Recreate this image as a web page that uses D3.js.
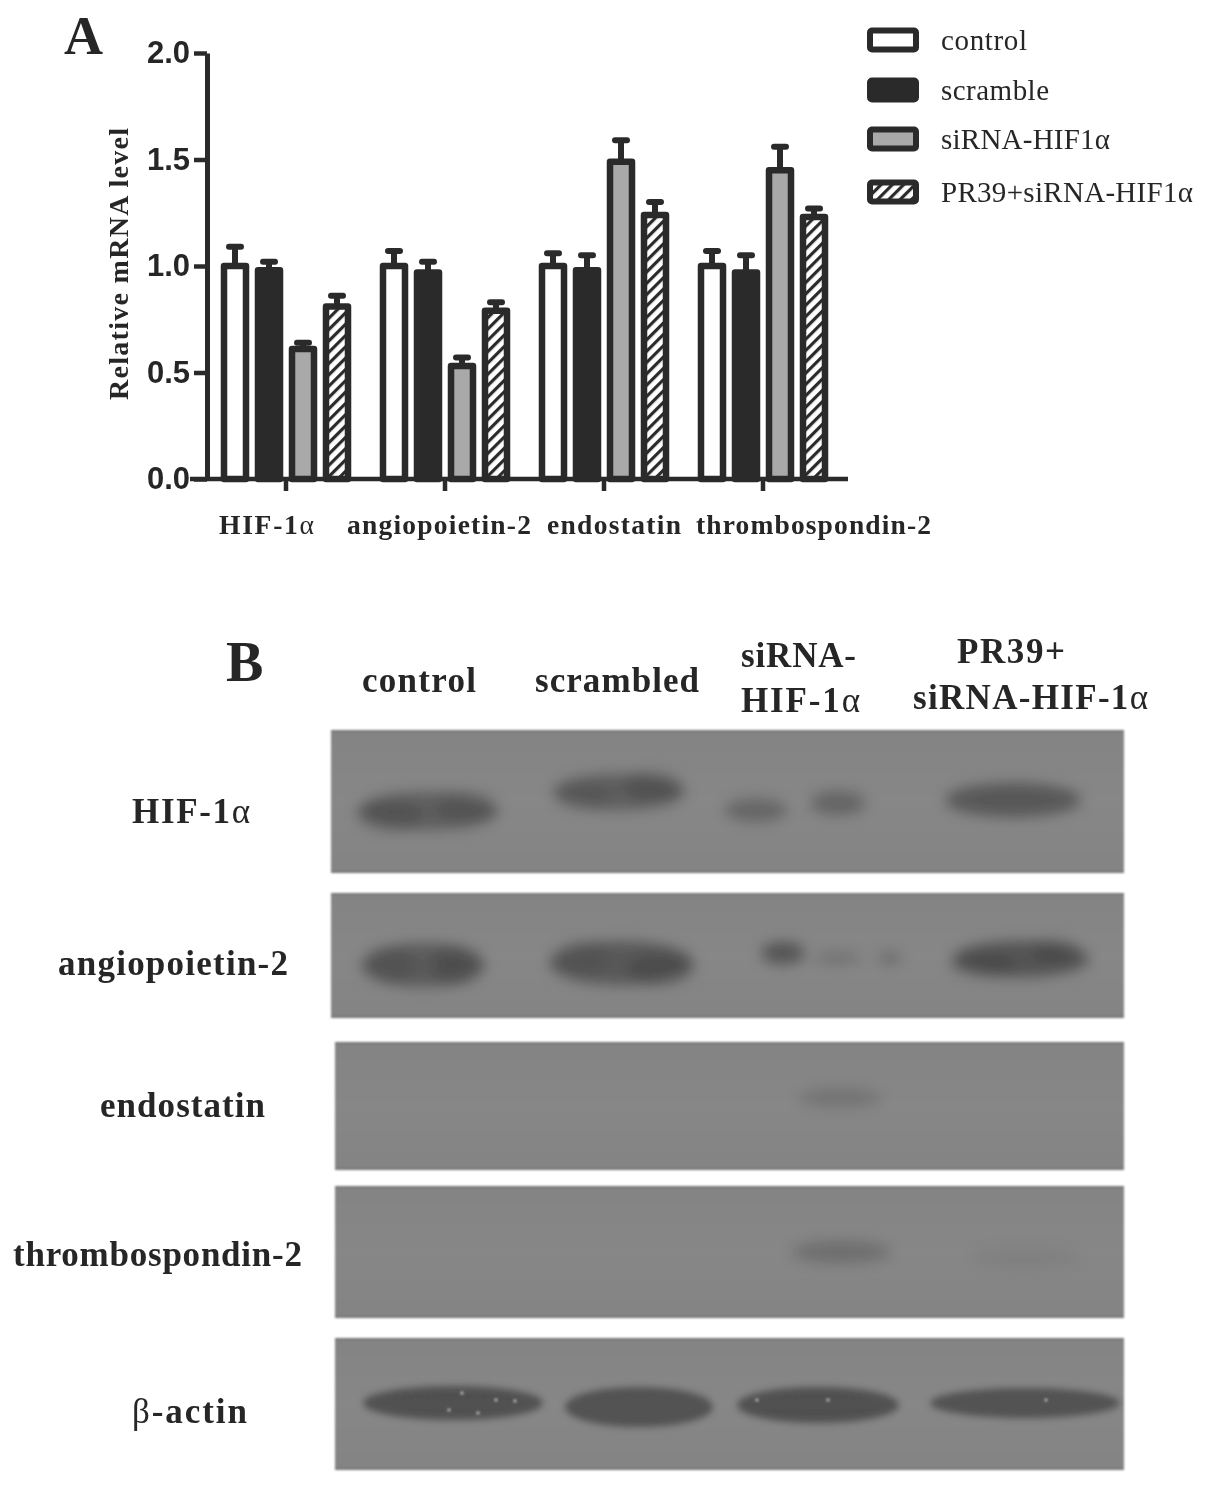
<!DOCTYPE html>
<html><head><meta charset="utf-8">
<script src="https://cdn.jsdelivr.net/npm/d3@7"></script>
<style>html,body{margin:0;padding:0;background:#fff}svg{display:block}</style>
</head><body><svg id="c" width="1205" height="1486"></svg>
<script>
// ---- Panel A data ----
const genes = ["HIF-1α","angiopoietin-2","endostatin","thrombospondin-2"];
const groups = ["control","scramble","siRNA-HIF1α","PR39+siRNA-HIF1α"];
const control  = [1.00,1.00,1.00,1.00];
const scramble = [0.98,0.97,0.98,0.97];
const sirna    = [0.61,0.53,1.49,1.45];
const pr39     = [0.81,0.79,1.24,1.23];
const controlTop  = [1.09,1.07,1.06,1.07];
const scrambleTop = [1.02,1.02,1.05,1.05];
const sirnaTop    = [0.64,0.57,1.59,1.56];
const pr39Top     = [0.86,0.83,1.30,1.27];
const yTicks = [0,0.5,1,1.5,2];
// ---- Panel B data: lanes and blot bands, in gel units [x, y, rx, ry, density] ----
const lanes = ["control","scrambled","siRNA-HIF-1α","PR39+siRNA-HIF-1α"];
const proteins = ["HIF-1α","angiopoietin-2","endostatin","thrombospondin-2","β-actin"];
const hifBands = [[97,81,70,19,.3],[58,85,32,17,.12],[135,77,30,17,.1],[288,62,66,18,.3],[252,66,28,15,.08],[322,56,28,15,.14],[425,80,32,12,.24],[507,73,28,12,.26],[682,70,68,17,.35]];
const angBands = [[92,72,62,22,.32],[60,72,24,18,.1],[124,72,24,20,.14],[290,70,72,22,.34],[250,64,26,18,.08],[330,76,34,17,.14],[452,60,22,11,.38],[507,65,24,5,.2],[559,65,12,6,.22],[690,66,68,18,.38],[725,57,24,12,.12],[650,72,34,13,.1]];
const endoBands = [[509,56,42,10,.14]];
const thrBands = [[510,66,50,11,.19],[694,71,55,11,.05]];
const actinBands = [[122,65,90,17,.4],[308,69,74,20,.39],[487,67,81,18,.4],[694,65,95,15,.39]];
const actinSpecks = [[131,55],[165,62],[184,63],[147,75],[118,72],[426,62],[497,62],[715,62]];
const blotBands = [hifBands,angBands,endoBands,thrBands,actinBands];
const panelTops = [730,893,1042,1186,1338];
const panelBottoms = [873,1018,1170,1318,1470];
const panelLefts = [331,331,335,335,335];

const svg = d3.select("#c");
const defs = svg.append("defs");
const INK = "#2b2b2b", TXT = "#262626";
const soft = defs.append("filter").attr("id","soft").attr("x","-1%").attr("y","-1%").attr("width","102%").attr("height","102%");
soft.append("feGaussianBlur").attr("stdDeviation",0.45);
[["bandBlur",7,"-40%","-100%","180%","300%"],["actinBlur",3.5,"-20%","-60%","140%","220%"],["edge",0.9,"-1%","-3%","102%","106%"],["speck",0.8,"-100%","-100%","300%","300%"]].forEach(([id,s,x,y,w,h])=>{
  defs.append("filter").attr("id",id).attr("x",x).attr("y",y).attr("width",w).attr("height",h)
    .append("feGaussianBlur").attr("stdDeviation",s);
});
const hatch = defs.append("pattern").attr("id","hatch").attr("patternUnits","userSpaceOnUse")
  .attr("width",8).attr("height",8).attr("patternTransform","rotate(45)");
hatch.append("rect").attr("width",8).attr("height",8).attr("fill","#fff");
hatch.append("rect").attr("width",3.2).attr("height",8).attr("fill",INK);
const grad = defs.append("linearGradient").attr("id","gel").attr("x1",0).attr("x2",0).attr("y1",0).attr("y2",1);
[[0,"#747474"],[.025,"#848484"],[.5,"#878787"],[.975,"#848484"],[1,"#747474"]].forEach(([o,c])=>grad.append("stop").attr("offset",o).attr("stop-color",c));

const root = svg.append("g").attr("filter","url(#soft)");
function label(g,t,x0,x1,y,size,opt={}){
  const el = g.append("text").attr("x",x0).attr("y",y).attr("dominant-baseline","central")
    .attr("font-family",opt.family||"Liberation Serif").attr("font-weight",opt.weight||"bold")
    .attr("font-size",size).attr("fill",TXT).attr("textLength",x1-x0).attr("lengthAdjust","spacing");
  t.split(/([αβ])/).filter(s=>s).forEach(s=>{
    const ts = el.append("tspan").text(s);
    if(s==="α"||s==="β") ts.attr("font-weight","normal");
  });
  return el;
}

// ---- Panel A ----
const A = root.append("g");
label(A,"A",64,104,36,54);
const y = d3.scaleLinear().domain([0,2]).range([479,53]);
const x0 = d3.scaleBand().domain(genes).range([206.5,842.5]);
const x1 = d3.scaleBand().domain(groups).range([11.5,147.5]);
const fills = d3.scaleOrdinal().domain(groups).range(["#fff",INK,"#a9a9a9","url(#hatch)"]);
const series = [control,scramble,sirna,pr39];
const tops = [controlTop,scrambleTop,sirnaTop,pr39Top];
const barW = 22;
groups.forEach((g,si)=>{
  genes.forEach((gene,i)=>{
    const cx = x0(gene)+x1(g)+x1.bandwidth()/2;
    A.append("line").attr("x1",cx).attr("x2",cx).attr("y1",y(series[si][i])).attr("y2",y(tops[si][i]))
      .attr("stroke",INK).attr("stroke-width",6);
    A.append("line").attr("x1",cx-6).attr("x2",cx+6).attr("y1",y(tops[si][i])).attr("y2",y(tops[si][i]))
      .attr("stroke",INK).attr("stroke-width",6).attr("stroke-linecap","round");
    A.append("rect").attr("x",cx-barW/2).attr("width",barW).attr("y",y(series[si][i])).attr("height",y(0)-y(series[si][i]))
      .attr("fill",fills(g)).attr("stroke",INK).attr("stroke-width",6.5).attr("stroke-linejoin","round");
  });
});
const yAxis = A.append("g").attr("transform","translate(207,0)")
  .call(d3.axisLeft(y).tickValues(yTicks).tickFormat(d3.format(".1f")).tickSize(13).tickSizeOuter(0).tickPadding(4));
yAxis.select(".domain").attr("stroke",INK).attr("stroke-width",5);
yAxis.selectAll(".tick line").attr("stroke",INK).attr("stroke-width",4.5);
yAxis.selectAll("text").attr("font-family","Liberation Sans").attr("font-weight","bold").attr("font-size",31).attr("fill",TXT);
const xAxis = A.append("g").attr("transform","translate(0,479)")
  .call(d3.axisBottom(x0).tickSize(12).tickSizeOuter(0).tickFormat(""));
xAxis.select(".domain").attr("stroke",INK).attr("stroke-width",4.5).attr("d","M190,0H848");
xAxis.selectAll(".tick line").attr("stroke",INK).attr("stroke-width",4.5);
label(A,"Relative mRNA level",0,272,0,28).attr("transform","translate(118,400) rotate(-90)");
const catSpans = [[219,314],[347,531],[547,681],[696,931]];
genes.forEach((g,i)=>label(A,g,catSpans[i][0],catSpans[i][1],524,27.5));

// legend
const legendY = {"control":40,"scramble":90,"siRNA-HIF1α":139,"PR39+siRNA-HIF1α":192};
const legendEnds = [1027,1049,1110,1193];
groups.forEach((g,i)=>{
  const cy = legendY[g];
  A.append("rect").attr("x",870).attr("y",cy-9.5).attr("width",46).attr("height",19).attr("rx",2)
    .attr("fill",fills(g)).attr("stroke",INK).attr("stroke-width",6).attr("stroke-linejoin","round");
  label(A,g,941,legendEnds[i],cy,29,{weight:"normal"});
});

// ---- Panel B ----
const B = root.append("g");
label(B,"B",226,263,662,56);
label(B,"control",362,476,680,35);
label(B,"scrambled",535,699,680,35);
label(B,"siRNA-",741,856,655,35);
label(B,"HIF-1α",741,860,700,35);
label(B,"PR39+",957,1065,651,35);
label(B,"siRNA-HIF-1α",913,1148,697,35);
const protSpans = [[132,250,811],[58,288,963],[100,265,1105],[13,302,1254],[132,247,1411]];
proteins.forEach((p,i)=>label(B,p,protSpans[i][0],protSpans[i][1],protSpans[i][2],35));

proteins.forEach((p,i)=>{
  const gx = d3.scaleLinear().domain([0,793]).range([331,1124]);
  const gy = d3.scaleLinear().domain([0,panelBottoms[i]-panelTops[i]]).range([panelTops[i],panelBottoms[i]]);
  const clipId = "clip"+i;
  defs.append("clipPath").attr("id",clipId).append("rect")
    .attr("x",panelLefts[i]).attr("y",panelTops[i]).attr("width",1124-panelLefts[i]).attr("height",panelBottoms[i]-panelTops[i]);
  const P = B.append("g");
  P.append("rect").attr("x",panelLefts[i]).attr("y",panelTops[i]).attr("width",1124-panelLefts[i]).attr("height",panelBottoms[i]-panelTops[i])
    .attr("fill","url(#gel)").attr("filter","url(#edge)");
  const inner = P.append("g").attr("clip-path",`url(#${clipId})`);
  inner.append("g").attr("filter",i===4?"url(#actinBlur)":"url(#bandBlur)").selectAll("ellipse").data(blotBands[i]).join("ellipse")
    .attr("cx",d=>gx(d[0])).attr("cy",d=>gy(d[1])).attr("rx",d=>gx(d[2])-gx(0)).attr("ry",d=>gy(d[3])-gy(0))
    .attr("fill","#000").attr("fill-opacity",d=>d[4]);
  if(i===4){
    inner.append("g").attr("filter","url(#speck)").selectAll("circle").data(actinSpecks).join("circle")
      .attr("cx",d=>gx(d[0])).attr("cy",d=>gy(d[1])).attr("r",1.8).attr("fill","#a8a8a8");
  }
});
</script></body></html>
